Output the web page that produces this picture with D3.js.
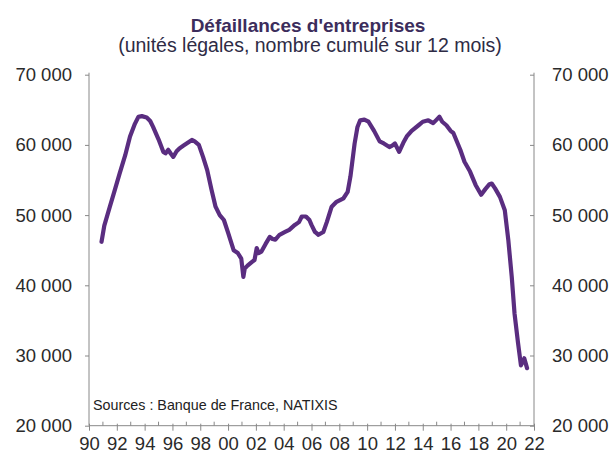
<!DOCTYPE html>
<html>
<head>
<meta charset="utf-8">
<script src="https://cdn.jsdelivr.net/npm/d3@7"></script>
<style>
  body { margin: 0; background: #fff; }
  svg { font-family: "Liberation Sans", Arial, sans-serif; }
</style>
</head>
<body>
<svg id="chart" width="613" height="455"></svg>
<script>
// Défaillances d'entreprises, cumul 12 mois
var years = [
  1990.9, 1991.1, 1991.5, 1991.8, 1992.2, 1992.6, 1992.95, 1993.3, 1993.55, 1993.8,
  1994.15, 1994.4, 1994.6, 1995.0, 1995.35, 1995.5, 1995.7, 1995.9, 1996.06, 1996.3,
  1996.5, 1996.8, 1997.1, 1997.4, 1997.6, 1997.9, 1998.2, 1998.5, 1998.8, 1999.1,
  1999.4, 1999.7, 2000.0, 2000.4, 2000.7, 2000.95, 2001.1, 2001.2, 2001.4, 2001.7,
  2001.9, 2002.06, 2002.2, 2002.4, 2002.7, 2003.0, 2003.2, 2003.4, 2003.7, 2004.1,
  2004.4, 2004.8, 2005.1, 2005.3, 2005.6, 2005.85, 2006.0, 2006.25, 2006.5, 2006.85,
  2007.1, 2007.45, 2007.8, 2008.3, 2008.6, 2008.8, 2009.1, 2009.3, 2009.5, 2009.8,
  2010.1, 2010.5, 2010.9, 2011.2, 2011.6, 2011.8, 2012.0, 2012.3, 2012.6, 2012.85,
  2013.2, 2013.7, 2014.0, 2014.4, 2014.75, 2015.0, 2015.2, 2015.4, 2015.7, 2016.0,
  2016.2, 2016.7, 2017.0, 2017.4, 2017.8, 2018.2, 2018.5, 2018.8, 2018.96, 2019.2,
  2019.55, 2019.9, 2020.15, 2020.4, 2020.6, 2020.85, 2021.06, 2021.3, 2021.5
];
var defaillances = [
  46200, 48500, 51200, 53200, 55900, 58500, 61200, 63000, 64000, 64100,
  63900, 63400, 62600, 60800, 59000, 58800, 59300, 58700, 58300, 59100,
  59500, 59900, 60300, 60700, 60500, 60000, 58300, 56400, 53700, 51200,
  50000, 49300, 47500, 45000, 44600, 43800, 41200, 42400, 42800, 43300,
  43600, 45300, 44600, 44800, 45900, 46900, 46600, 46500, 47200, 47600,
  47900, 48600, 49000, 49800, 49800, 49300, 48600, 47600, 47200, 47600,
  49000, 51200, 51900, 52400, 53300, 55500, 60200, 62500, 63500, 63600,
  63300, 62000, 60500, 60200, 59700, 59900, 60200, 59000, 60300, 61200,
  62000, 62800, 63300, 63500, 63100, 63600, 64000, 63300, 62800, 62000,
  61700, 59300, 57600, 56200, 54300, 52900, 53700, 54400, 54500, 53800,
  52600, 50700, 46500, 41200, 36000, 31800, 28600, 29600, 28200
];
var yTicks = [20000, 30000, 40000, 50000, 60000, 70000];
var xLabelYears = d3.range(1990, 2023, 2);
var xTickYears = d3.range(1990, 2023, 1);

var title = "Défaillances d'entreprises";
var subtitle = "(unités légales, nombre cumulé sur 12 mois)";
var source = "Sources : Banque de France, NATIXIS";

var svg = d3.select("#chart");
var plotLeft = 89, plotRight = 534, plotTop = 74.7, plotBottom = 425.7;

var x = d3.scaleLinear().domain([1990, 2022]).range([plotLeft, plotRight]);
var y = d3.scaleLinear().domain([20000, 70000]).range([plotBottom, plotTop]);

var fmt = function(d) { return d3.format(",")(d).replace(",", " "); };

// titles
svg.append("text")
  .attr("x", 308).attr("y", 32)
  .attr("text-anchor", "middle")
  .attr("font-size", 19).attr("font-weight", "bold")
  .attr("fill", "#3c2d5c")
  .text(title);
svg.append("text")
  .attr("x", 310).attr("y", 52)
  .attr("text-anchor", "middle")
  .attr("font-size", 19.5)
  .attr("fill", "#2e2b45")
  .text(subtitle);

// left axis
var yl = svg.append("g")
  .attr("transform", "translate(" + plotLeft + ",0)")
  .call(d3.axisLeft(y).tickValues(yTicks).tickSize(4).tickPadding(13).tickFormat(fmt));
yl.select(".domain").attr("stroke", "#888").attr("d", "M0," + (plotTop - 2) + "V" + plotBottom);

// right axis (ticks pointing inwards, labels outside)
var yr = svg.append("g")
  .attr("transform", "translate(" + plotRight + ",0)")
  .call(d3.axisRight(y).tickValues(yTicks).tickSize(0).tickPadding(18).tickFormat(fmt));
yr.select(".domain").attr("stroke", "#888").attr("d", "M0," + (plotTop - 2) + "V" + plotBottom);
yr.selectAll(".tick").append("line").attr("x1", -4).attr("x2", 0).attr("stroke", "#888");

[yl, yr].forEach(function(a) {
  a.selectAll(".tick line").attr("stroke", "#888");
  a.selectAll("text").attr("font-size", 18.5).attr("fill", "#2a2a2a")
    .attr("font-family", "Liberation Sans, Arial, sans-serif");
});

// x axis
var xa = svg.append("g")
  .attr("transform", "translate(0," + plotBottom + ")")
  .call(d3.axisBottom(x).tickValues(xLabelYears).tickSize(5).tickPadding(6)
    .tickFormat(function(d) { return String(d % 100).padStart(2, "0"); }));
xa.select(".domain").attr("stroke", "#888").attr("d", "M" + plotLeft + ",0H" + plotRight);
xa.selectAll(".tick line").attr("stroke", "#888").attr("y1", -2);
xa.selectAll("text").attr("font-size", 18.5).attr("fill", "#2a2a2a")
  .attr("font-family", "Liberation Sans, Arial, sans-serif");
xa.selectAll(".minor")
  .data(xTickYears.filter(function(d) { return d % 2; }))
  .enter().append("line")
  .attr("x1", function(d) { return x(d); }).attr("x2", function(d) { return x(d); })
  .attr("y1", -4).attr("y2", 0)
  .attr("stroke", "#888");

// source
svg.append("text")
  .attr("x", 93).attr("y", 410)
  .attr("font-size", 14.3)
  .attr("fill", "#222")
  .text(source);

// series
var line = d3.line()
  .x(function(d, i) { return x(years[i]); })
  .y(function(d) { return y(d); })
  .curve(d3.curveLinear);

svg.append("path")
  .datum(defaillances)
  .attr("fill", "none")
  .attr("stroke", "#5a2d80")
  .attr("stroke-width", 4.2)
  .attr("stroke-linejoin", "round")
  .attr("stroke-linecap", "round")
  .attr("d", line);
</script>
</body>
</html>
